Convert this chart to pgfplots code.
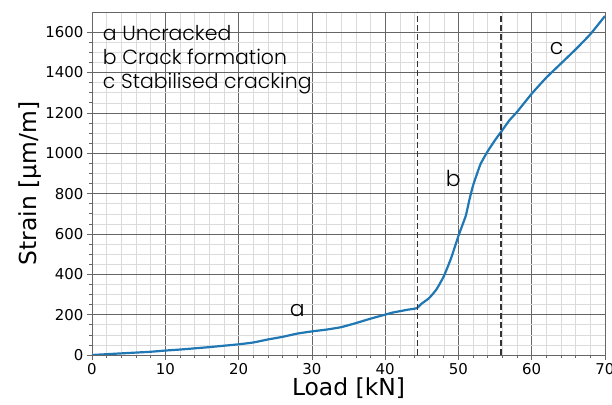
\documentclass[border=0pt]{standalone}
\usepackage{fontspec}
\setmainfont{DejaVu Sans}
\newfontfamily\gothic{Poppins Light}
\usepackage{pgfplots}
\pgfplotsset{compat=1.18}
\definecolor{mplblue}{HTML}{1F77B4}
\begin{document}
\begin{tikzpicture}
\begin{axis}[
  scale only axis,
  width=513bp, height=343bp,
  xmin=0, xmax=70, ymin=0, ymax=1700,
  xtick={0,10,...,70},
  ytick={0,200,...,1600},
  minor x tick num=4,
  minor y tick num=3,
  grid=both,
  major grid style={black!60, line width=0.6bp},
  minor grid style={black!14, line width=0.5bp},
  axis line style={black!60, line width=0.8bp},
  tick align=outside,
  tick pos=left,
  major tick length=5bp,
  minor tick length=2.5bp,
  tick style={black!60, line width=0.6bp},
  /pgf/number format/assume math mode=true,
  /pgf/number format/1000 sep={},
  ticklabel style={font=\fontsize{15}{18}\selectfont},
  xlabel={Load [kN]},
  ylabel={Strain [µm/m]},
  label style={font=\fontsize{23.5}{28}\selectfont},
  xlabel style={at={([yshift=-33bp]rel axis cs:0.5,0)}, anchor=center},
  ylabel style={at={([xshift=-62bp]rel axis cs:0,0.5)}, anchor=center},
  clip=true,
]
\addplot[mplblue, line width=2.2bp, smooth, tension=0.3] coordinates {
(0,0) (2,4) (4,8) (6,12) (8,16) (10,22) (12,27) (14,33) (16,39) (18,46)
(20,53) (22,62) (24,77) (26,90) (28,106) (30,117) (32,126) (34,138)
(36,158) (38,180) (40,200) (41,210) (42,217) (43,224) (44.3,232)
(45,255) (46,282) (47,325) (48,390) (49,480) (50,590) (51,690)
(51.5,770) (52,840) (53,945) (54,1010) (55,1065) (56,1115) (57,1165)
(58,1205) (60,1295) (62,1375) (64,1445) (66,1515) (68,1590) (70,1680)
};
\addplot[black!80, line width=1.3bp, dash pattern=on 6bp off 3bp] coordinates {(44.4,0) (44.4,1700)};
\addplot[black!80, line width=1.3bp, dash pattern=on 6bp off 3bp] coordinates {(55.8,0) (55.8,1700)};
\node[font=\gothic\fontsize{22}{26}\selectfont, inner sep=0pt] at (axis cs:28.0,218) {a};
\node[font=\gothic\fontsize{22}{26}\selectfont, inner sep=0pt] at (axis cs:49.3,875) {b};
\node[font=\gothic\fontsize{22}{26}\selectfont, inner sep=0pt] at (axis cs:63.4,1521) {c};
\node[font=\gothic\fontsize{20.5}{24.5}\selectfont, inner sep=0pt, anchor=north west, align=left]
  at (rel axis cs:0.021,0.963) {a Uncracked\\b Crack formation\\c Stabilised cracking};
\end{axis}
\pgfresetboundingbox
\useasboundingbox (-92bp,-50bp) rectangle (520bp,355bp);
\end{tikzpicture}
\end{document}
